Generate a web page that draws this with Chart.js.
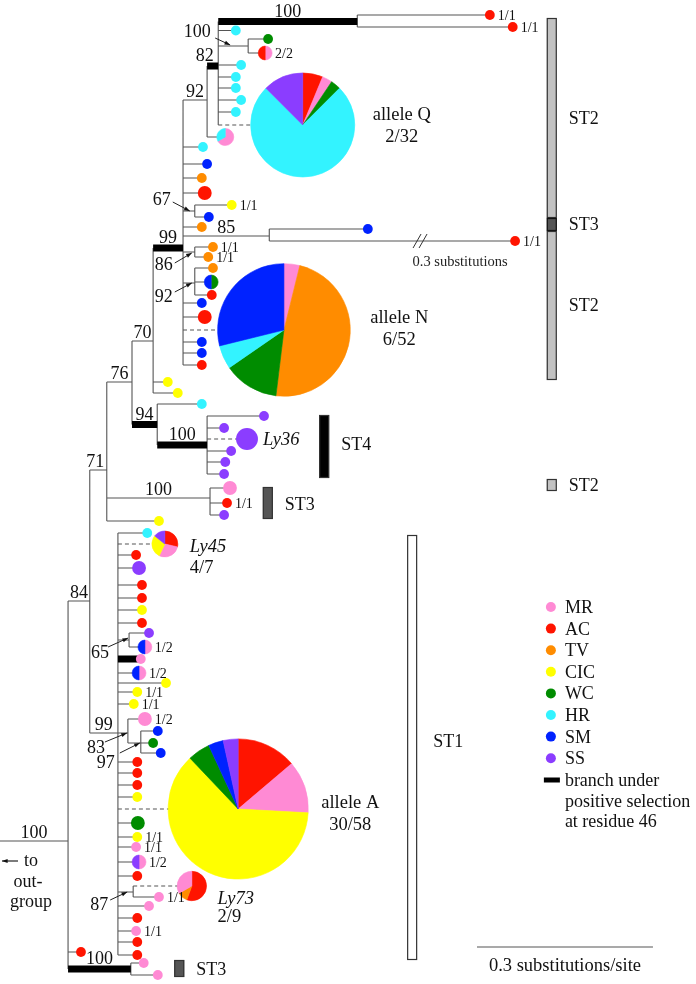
<!DOCTYPE html>
<html>
<head>
<meta charset="utf-8">
<title>Allele phylogeny</title>
<script src="https://cdn.jsdelivr.net/npm/chart.js@4.4.1/dist/chart.umd.min.js"></script>
<style>
  html, body { margin: 0; padding: 0; background: #fff; }
  #wrap { width: 696px; height: 984px; }
</style>
</head>
<body>
<div id="wrap"><canvas id="tree"></canvas></div>
<script>
// ========== Data ==========
// x = depth from the left edge in substitutions/site, row = vertical slot (top = 0)
const hostNames  = ['MR', 'AC', 'TV', 'CIC', 'WC', 'HR', 'SM', 'SS'];
const hostColors = ['#ff8ad4', '#ff1400', '#ff8c00', '#ffff00', '#008c00', '#33f3ff', '#0022ff', '#8b3dff'];

// internal nodes
const nodeIds     = ['R', 'N84', 'N71', 'N76', 'N70', 'N99a', 'N92a', 'N82', 'N100a', 'N100b', 'N67', 'N85',
                     'N86', 'N92b', 'N94', 'N100c', 'N100d', 'N99b', 'N65', 'N83', 'N97', 'N87', 'N100e'];
const nodeParents = [null, 'R', 'N84', 'N71', 'N76', 'N70', 'N99a', 'N92a', 'N82', 'N82', 'N99a', 'N99a',
                     'N99a', 'N99a', 'N76', 'N94', 'N71', 'N84', 'N99b', 'N99b', 'N83', 'N99b', 'R'];
const nodeDepths  = [0.116, 0.153, 0.182, 0.225, 0.261, 0.312, 0.353, 0.372, 0.609, 0.423, 0.332, 0.459,
                     0.332, 0.332, 0.268, 0.353, 0.358, 0.201, 0.220, 0.218, 0.240, 0.227, 0.223];
const nodeRows    = [841, 601, 470, 382, 341, 248, 100, 66, 21.5, 46, 211, 236,
                     252, 283, 424.5, 445, 498, 733, 640, 733, 743, 892, 969];
const nodeSupport = [100, 84, 71, 76, 70, 99, 92, 82, 100, 100, 67, 85, 86, 92, 94, 100, 100, 99, 65, 83, 97, 87, 100];
// branch under positive selection at residue 46
const nodeSelected = ['N99a', 'N82', 'N100a', 'N94', 'N100c', 'N100e'];

// tips: [parent, depth, row, hosts (count per host), note, flag]
const st2UpperTips = [
  ['N100a', 0.835, 15, 'AC', '1/1'],
  ['N100a', 0.874, 27, 'AC', '1/1'],
  ['N82', 0.402, 30.5, 'HR'],
  ['N100b', 0.457, 39, 'WC'],
  ['N100b', 0.452, 53, 'MR1 AC1', '2/2'],
  ['N82', 0.411, 65, 'HR'],
  ['N82', 0.402, 77, 'HR'],
  ['N82', 0.402, 88, 'HR'],
  ['N82', 0.411, 100, 'HR'],
  ['N82', 0.402, 112, 'HR'],
  ['N82', 0.516, 125, 'AC2 MR1 WC1 HR24 SS4', 'allele Q|2/32', 'dash'],
  ['N92a', 0.384, 137, 'MR2 HR1'],
  ['N99a', 0.346, 147, 'HR'],
  ['N99a', 0.353, 164, 'SM'],
  ['N99a', 0.344, 178, 'TV'],
  ['N99a', 0.349, 193, 'AC2'],
  ['N67', 0.395, 205, 'CIC', '1/1'],
  ['N67', 0.356, 217, 'SM'],
  ['N99a', 0.344, 227, 'TV'],
  ['N85', 0.627, 229, 'SM'],
  ['N85', 1.178, 241, 'AC', '1/1', 'break']
];
const st2LowerTips = [
  ['N86', 0.363, 247, 'TV', '1/1'],
  ['N86', 0.355, 257, 'TV', '1/1'],
  ['N92b', 0.363, 268, 'TV'],
  ['N92b', 0.360, 282, 'WC1 SM1'],
  ['N92b', 0.361, 295, 'AC'],
  ['N99a', 0.344, 303, 'SM'],
  ['N99a', 0.349, 317, 'AC2'],
  ['N99a', 0.484, 330, 'MR2 TV25 WC7 HR3 SM15', 'allele N|6/52', 'dash'],
  ['N99a', 0.344, 342, 'SM'],
  ['N99a', 0.344, 353, 'SM'],
  ['N99a', 0.344, 365, 'AC'],
  ['N70', 0.286, 382, 'CIC'],
  ['N70', 0.303, 393, 'CIC'],
  ['N94', 0.344, 404, 'HR']
];
const st4Tips = [
  ['N100c', 0.450, 416, 'SS'],
  ['N100c', 0.382, 428, 'SS'],
  ['N100c', 0.421, 439, 'SS5', 'Ly36', 'dash'],
  ['N100c', 0.394, 451, 'SS'],
  ['N100c', 0.384, 462, 'SS'],
  ['N100c', 0.382, 474, 'SS']
];
const st3Tips = [
  ['N100d', 0.392, 488, 'MR2'],
  ['N100d', 0.387, 503, 'AC', '1/1'],
  ['N100d', 0.382, 515, 'SS'],
  ['N71', 0.271, 521, 'CIC'],
  ['R', 0.138, 952, 'AC'],
  ['N100e', 0.245, 963, 'MR'],
  ['N100e', 0.269, 975, 'MR']
];
const st1Tips = [
  ['N99b', 0.251, 533, 'HR'],
  ['N99b', 0.281, 544, 'AC2 MR2 CIC2 SS1', 'Ly45|4/7', 'dash'],
  ['N99b', 0.232, 555, 'AC'],
  ['N99b', 0.237, 568, 'SS2'],
  ['N99b', 0.242, 585, 'AC'],
  ['N99b', 0.242, 598, 'AC'],
  ['N99b', 0.242, 610, 'CIC'],
  ['N99b', 0.242, 623, 'AC'],
  ['N65', 0.254, 633, 'SS'],
  ['N65', 0.247, 647, 'MR1 SM1', '1/2'],
  ['N99b', 0.240, 659, 'MR', '', 'selected'],
  ['N99b', 0.237, 673, 'MR1 SM1', '1/2'],
  ['N99b', 0.283, 683, 'CIC'],
  ['N99b', 0.234, 692, 'CIC', '1/1'],
  ['N99b', 0.228, 704, 'CIC', '1/1'],
  ['N83', 0.247, 719, 'MR2', '1/2'],
  ['N97', 0.269, 731, 'SM'],
  ['N97', 0.261, 743, 'WC'],
  ['N97', 0.274, 753, 'SM'],
  ['N99b', 0.234, 762, 'AC'],
  ['N99b', 0.234, 773, 'AC'],
  ['N99b', 0.234, 785, 'AC'],
  ['N99b', 0.234, 797, 'CIC'],
  ['N99b', 0.406, 809, 'AC8 MR7 CIC36 WC3 SM2 SS2', 'allele A|30/58', 'dash'],
  ['N99b', 0.235, 823, 'WC2'],
  ['N99b', 0.234, 837, 'CIC', '1/1'],
  ['N99b', 0.232, 847, 'MR', '1/1'],
  ['N99b', 0.237, 862, 'MR1 SS1', '1/2'],
  ['N99b', 0.234, 876, 'AC'],
  ['N87', 0.327, 886, 'AC5 TV1 MR3', 'Ly73|2/9', 'dash'],
  ['N87', 0.271, 897, 'MR', '1/1'],
  ['N99b', 0.254, 906, 'MR'],
  ['N99b', 0.234, 918, 'AC'],
  ['N99b', 0.232, 931, 'MR', '1/1'],
  ['N99b', 0.234, 942, 'AC'],
  ['N99b', 0.234, 955, 'AC']
];

// sequence types: [name, first row, last row, label row, column depth]
const stBlocks = [
  ['ST2', 18, 218, 124, 0.932],
  ['ST3', 218, 231, 230, 0.932],
  ['ST2', 231, 380, 311, 0.932],
  ['ST2', 479, 491, 491, 0.932],
  ['ST4', 415, 478, 450, 0.544],
  ['ST3', 487, 519, 510, 0.448],
  ['ST3', 960, 977, 975, 0.297],
  ['ST1', 535, 960, 747, 0.694]
];
const stFill = { ST1: '#ffffff', ST2: '#c2c2c2', ST3: '#555555', ST4: '#000000' };

const longBranchGap = 0.3;      // substitutions cut out of the broken branch
const longBranchBreakAt = 0.716;
const scaleBarStart = 0.813;
const scaleBarLength = 0.3;
const scaleBarRow = 947;

// ========== Layout ==========
const SERIF = "'Liberation Serif', 'DejaVu Serif', serif";
const W = 696, H = 984;
const pxPerSub = 176 / 0.3;
// [text dx, text dy, arrow from dx, dy, arrow to dx, dy] relative to node, px
const arrowLabels = {
  N100b: [-51, -9, -33, -8, -18, -1],
  N67: [-33, -6, -22, -9, -5, 0],
  N86: [-31, 18, -20, 11, -3, 1],
  N92b: [-31, 19, -20, 9, -3, 0],
  N65: [-29, 18, -21, 7, -1, -2],
  N83: [-32, 20, -23, 9, -1, 0],
  N97: [-35, 25, -21, 10, -1, 0],
  N87: [-34, 18, -23, 8, -6, 0]
};
const stemLabelShift = { N82: -8, N71: -3 };
// [align, dx from dot edge, first baseline dy, second baseline dy, italic]
const nameLayout = {
  'allele Q': ['center', 47, -5, 17, false],
  'allele N': ['center', 49, -7, 15, false],
  'allele A': ['center', 42, -1, 21, false],
  'Ly36': ['left', 5, 6, 0, true],
  'Ly45': ['left', 12, 8, 29, true],
  'Ly73': ['left', 11, 18, 36, true]
};

// ========== Build ==========
const hostColor = {};
hostNames.forEach((h, i) => { hostColor[h] = hostColors[i]; });
const nodeIndex = {};
nodeIds.forEach((id, i) => { nodeIndex[id] = i; });

function parseHosts(spec) {
  return spec.split(' ').map(tok => {
    const m = tok.match(/^([A-Z]+)(\d*)$/);
    return [m[1], m[2] ? Number(m[2]) : 1];
  });
}
function radiusFor(n) {
  return n >= 20 ? 9.2 * Math.sqrt(n) : 4.9 * Math.sqrt(n);
}

const tipList = [].concat(st2UpperTips, st2LowerTips, st4Tips, st3Tips, st1Tips).map(t => {
  const hosts = parseHosts(t[3]);
  const n = hosts.reduce((s, h) => s + h[1], 0);
  const flag = t[5] || '';
  return {
    parent: t[0], depth: t[1], row: t[2], hosts, n, note: t[4] || '', flag,
    drawDepth: flag === 'break' ? t[1] - longBranchGap : t[1]
  };
});

const thinSegs = [], thickSegs = [], dashSegs = [];
function seg(arr, x1, y1, x2, y2) {
  arr.push({ x: x1, y: y1 }, { x: x2, y: y2 }, { x: x2, y: null });
}

// node stems and verticals
nodeIds.forEach((id, i) => {
  const p = nodeParents[i];
  const x0 = p ? nodeDepths[nodeIndex[p]] : 0;
  seg(nodeSelected.includes(id) ? thickSegs : thinSegs, x0, nodeRows[i], nodeDepths[i], nodeRows[i]);
  const rows = [];
  nodeIds.forEach((cid, j) => { if (nodeParents[j] === id) rows.push(nodeRows[j]); });
  tipList.forEach(t => { if (t.parent === id) rows.push(t.row); });
  seg(thinSegs, nodeDepths[i], Math.min(...rows), nodeDepths[i], Math.max(...rows));
});
// tip branches
tipList.forEach(t => {
  const x0 = nodeDepths[nodeIndex[t.parent]];
  const target = t.flag === 'dash' ? dashSegs : t.flag === 'selected' ? thickSegs : thinSegs;
  seg(target, x0, t.row, t.drawDepth, t.row);
});
// scale bar
seg(thinSegs, scaleBarStart, scaleBarRow, scaleBarStart + scaleBarLength, scaleBarRow);

const dotPts = [], dotR = [], dotC = [];
tipList.forEach(t => {
  if (t.hosts.length === 1) {
    dotPts.push({ x: t.drawDepth, y: t.row });
    dotR.push(radiusFor(t.n));
    dotC.push(hostColor[t.hosts[0][0]]);
  }
});

// ========== Decorations ==========
function drawArrow(ctx, x1, y1, x2, y2) {
  ctx.beginPath(); ctx.moveTo(x1, y1); ctx.lineTo(x2, y2); ctx.stroke();
  const a = Math.atan2(y2 - y1, x2 - x1);
  ctx.beginPath();
  ctx.moveTo(x2, y2);
  ctx.lineTo(x2 - 6 * Math.cos(a - 0.35), y2 - 6 * Math.sin(a - 0.35));
  ctx.lineTo(x2 - 6 * Math.cos(a + 0.35), y2 - 6 * Math.sin(a + 0.35));
  ctx.closePath(); ctx.fill();
}

const treeDecor = {
  id: 'treeDecor',
  afterDatasetsDraw(chart) {
    const ctx = chart.ctx;
    const X = v => chart.scales.x.getPixelForValue(v);
    const Y = v => chart.scales.y.getPixelForValue(v);
    ctx.save();

    // mixed-host tips and allele pies
    tipList.forEach(t => {
      if (t.hosts.length < 2) return;
      const cx = X(t.drawDepth), cy = Y(t.row), r = radiusFor(t.n);
      let a = -Math.PI / 2;
      t.hosts.forEach(([h, c]) => {
        const sweep = c / t.n * Math.PI * 2;
        ctx.beginPath(); ctx.moveTo(cx, cy); ctx.arc(cx, cy, r, a, a + sweep); ctx.closePath();
        ctx.fillStyle = hostColor[h]; ctx.strokeStyle = hostColor[h]; ctx.lineWidth = 0.6;
        ctx.fill(); ctx.stroke();
        a += sweep;
      });
    });

    // tip notes
    ctx.fillStyle = '#111';
    tipList.forEach(t => {
      if (!t.note) return;
      const cx = X(t.drawDepth), cy = Y(t.row), r = radiusFor(t.n);
      const parts = t.note.split('|');
      const lay = nameLayout[parts[0]];
      if (!lay) {
        ctx.font = '14px ' + SERIF; ctx.textAlign = 'left';
        ctx.fillText(t.note, cx + r + 3, cy + 5);
        return;
      }
      const tx = cx + r + lay[1];
      ctx.textAlign = lay[0];
      ctx.font = (lay[4] ? 'italic ' : '') + '18.5px ' + SERIF;
      ctx.fillText(parts[0], tx, cy + lay[2]);
      if (parts[1]) {
        ctx.font = '18.5px ' + SERIF;
        ctx.fillText(parts[1], tx, cy + lay[3]);
      }
    });

    // bootstrap support
    ctx.font = '18px ' + SERIF; ctx.textAlign = 'center';
    ctx.strokeStyle = '#222'; ctx.lineWidth = 1; ctx.fillStyle = '#111';
    nodeIds.forEach((id, i) => {
      const p = nodeParents[i];
      const x0 = p ? nodeDepths[nodeIndex[p]] : 0;
      const nx = X(nodeDepths[i]), ny = Y(nodeRows[i]);
      const lay = arrowLabels[id];
      if (lay) {
        ctx.fillText(String(nodeSupport[i]), nx + lay[0], ny + lay[1]);
        drawArrow(ctx, nx + lay[2], ny + lay[3], nx + lay[4], ny + lay[5]);
      } else {
        const mid = (X(x0) + nx) / 2 + (stemLabelShift[id] || 0);
        ctx.fillText(String(nodeSupport[i]), mid, ny - (nodeSelected.includes(id) ? 5 : 3));
      }
    });

    // broken long branch
    const bx = X(longBranchBreakAt), brow = Y(241);
    ctx.strokeStyle = '#333'; ctx.lineWidth = 1;
    [-3, 3].forEach(d => {
      ctx.beginPath(); ctx.moveTo(bx + d - 4, brow + 7); ctx.lineTo(bx + d + 4, brow - 7); ctx.stroke();
    });
    ctx.font = '14.5px ' + SERIF; ctx.textAlign = 'center'; ctx.fillStyle = '#222';
    ctx.fillText(longBranchGap + ' substitutions', bx + 40, brow + 25);

    // sequence type bars
    stBlocks.forEach(([name, r0, r1, lr, col]) => {
      const x = X(col), w = 10, y0 = Y(r0), y1 = Y(r1);
      ctx.fillStyle = stFill[name];
      ctx.fillRect(x, y0, w, y1 - y0);
      ctx.strokeStyle = name === 'ST3' && col > 0.9 ? '#111' : '#333';
      ctx.lineWidth = 1.2;
      ctx.strokeRect(x + 0.5, y0 + 0.5, w - 1, y1 - y0 - 1);
      ctx.fillStyle = '#111'; ctx.font = '18px ' + SERIF; ctx.textAlign = 'left';
      ctx.fillText(name, x + w + (name === 'ST1' ? 16 : 12), Y(lr));
    });

    // scale bar label
    ctx.font = '18.5px ' + SERIF; ctx.textAlign = 'center';
    ctx.fillText(scaleBarLength + ' substitutions/site', X(scaleBarStart + scaleBarLength / 2), Y(scaleBarRow) + 24);

    // outgroup
    ctx.strokeStyle = '#222'; ctx.fillStyle = '#111';
    drawArrow(ctx, 18, Y(861), 2, Y(861));
    ctx.font = '18px ' + SERIF; ctx.textAlign = 'center';
    ctx.fillText('to', 31, Y(866));
    ctx.fillText('out-', 28, Y(887));
    ctx.fillText('group', 31, Y(907));

    // legend
    const lx = X(0.939);
    hostNames.forEach((h, i) => {
      const ly = Y(607 + i * 21.6);
      ctx.beginPath(); ctx.arc(lx, ly, 5, 0, Math.PI * 2);
      ctx.fillStyle = hostColors[i]; ctx.fill();
      ctx.fillStyle = '#111'; ctx.textAlign = 'left'; ctx.font = '18px ' + SERIF;
      ctx.fillText(h, lx + 14, ly + 6);
    });
    ctx.fillStyle = '#000';
    ctx.fillRect(lx - 7, Y(777.5), 16, 5);
    ctx.fillStyle = '#111';
    ['branch under', 'positive selection', 'at residue 46'].forEach((s, i) => {
      ctx.fillText(s, lx + 14, Y(786 + i * 20.5));
    });
    ctx.restore();
  }
};

// ========== Chart ==========
new Chart(document.getElementById('tree'), {
  type: 'scatter',
  data: {
    datasets: [
      { data: dotPts, pointRadius: dotR, pointHoverRadius: dotR, pointBackgroundColor: dotC,
        pointBorderWidth: 0, showLine: false, clip: false, order: 0 },
      { data: thickSegs, showLine: true, borderColor: '#000', borderWidth: 7, pointRadius: 0,
        spanGaps: false, clip: false, order: 2 },
      { data: dashSegs, showLine: true, borderColor: '#555', borderWidth: 1.1, borderDash: [4, 3],
        pointRadius: 0, spanGaps: false, clip: false, order: 3 },
      { data: thinSegs, showLine: true, borderColor: '#555', borderWidth: 1.1, pointRadius: 0,
        spanGaps: false, clip: false, order: 4 }
    ]
  },
  options: {
    responsive: true,
    maintainAspectRatio: false,
    animation: false,
    events: [],
    layout: { padding: 0, autoPadding: false },
    plugins: { legend: { display: false }, tooltip: { enabled: false } },
    scales: {
      x: { type: 'linear', min: 0, max: W / pxPerSub, display: false },
      y: { type: 'linear', min: 0, max: H, reverse: true, display: false }
    }
  },
  plugins: [treeDecor]
});
</script>
</body>
</html>
